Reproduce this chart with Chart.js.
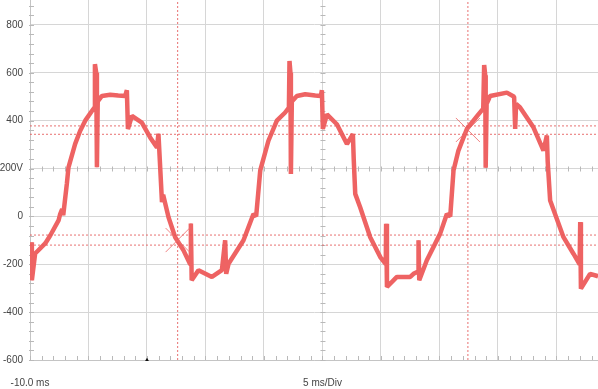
<!DOCTYPE html>
<html>
<head>
<meta charset="utf-8">
<script src="https://cdn.jsdelivr.net/npm/chart.js@4/dist/chart.umd.min.js"></script>
<style>
  body { margin: 0; background: #fff; }
  #wrap { width: 598px; height: 389px; }
</style>
</head>
<body>
<div id="wrap"><canvas id="scope" width="598" height="389"></canvas></div>
<script>
// waveform (ms, volts)
const timeMs = [-9.90, -9.84, -9.56, -8.70, -8.27, -7.56, -7.42, -7.25, -7.16, -6.85, -6.71, -6.14, -5.71, -5.28, -4.71,
  -4.49, -4.45, -4.34, -4.28, -4.21, -3.85, -3.15, -2.46, -1.86, -1.72, -1.63, -1.29, -0.44, 0.27, 0.85, 0.98, 1.09,
  1.28, 1.38, 1.84, 2.41, 3.12, 3.69, 3.75, 3.82, 4.40, 5.55, 6.40, 6.68, 6.77, 6.97, 8.25, 9.10, 9.33, 9.68, 10.38,
  11.10, 11.81, 12.13, 12.18, 12.26, 12.30, 12.38, 12.81, 13.52, 14.38, 14.86, 14.95, 15.03, 15.38, 16.23, 17.09, 17.60,
  17.67, 17.80, 18.22, 19.08, 19.94, 20.41, 20.44, 20.51, 21.36, 22.50, 22.78, 23.18, 23.21, 23.27, 23.92, 25.06, 25.63,
  25.92, 26.20, 26.62, 27.34, 28.33, 28.74, 28.82, 28.91, 28.95, 29.03, 29.33, 30.76, 31.38, 31.47, 31.55, 31.89, 33.03,
  33.89, 34.18, 34.25, 34.46, 35.60, 36.45, 36.98, 37.03, 37.09, 37.87, 38.55];
const volts = [-108, -267, -155, -113, -80, -17, 10, 30, 5, 136, 205, 303, 358, 400, 440,
  455, 636, 600, 205, 480, 503, 508, 505, 503, 527, 365, 420, 392, 330, 288, 345, 240,
  60, 90, -4, -87, -142, -200, -30, -267, -225, -253, -225, -100, -240, -198, -100, 10, 0, 192, 316,
  400, 434, 455, 649, 600, 177, 480, 503, 510, 505, 503, 527, 365, 426, 385, 302, 344,
  240, 94, 38, -87, -170, -200, -31, -295, -253, -253, -240, -230, -100, -267, -183, -72, 10,
  0, 192, 275, 365, 426, 450, 632, 590, 203, 470, 503, 517, 500, 365, 470, 455, 372,
  275, 338, 230, 66, -87, -156, -200, -24, -302, -240, -250];

const yTicks = [-600, -400, -200, 0, 200, 400, 600, 800];
const xTicks = [-10, -5, 0, 5, 10, 15, 20, 25, 30, 35];
const cursorVolts = [378, 343, -78, -120];
const cursorTimes = [2.62, 27.43];
const markerTimes = [2.62, 27.43];
const markerVolts = [-99, 361];
const triggerTime = 0;

const X_MIN = -10, X_MAX = 38.55, Y_MIN = -600, Y_MAX = 904;
const MINOR = 5;
const labelFont = { family: "'Liberation Sans Narrow', 'Arial Narrow', 'Liberation Sans', sans-serif", size: 10 };

const trace = timeMs.map((t, i) => ({ x: t, y: volts[i] }));
const cursorStyle = {
  borderColor: 'rgba(228, 88, 88, 0.85)', borderWidth: 1, borderDash: [2, 2],
  pointRadius: 0, fill: false, tension: 0
};

const datasets = [];
cursorVolts.forEach(v => datasets.push(Object.assign({
  data: [{ x: X_MIN, y: v }, { x: X_MAX, y: v }]
}, cursorStyle)));
cursorTimes.forEach(t => datasets.push(Object.assign({
  data: [{ x: t, y: Y_MIN }, { x: t, y: Y_MAX }]
}, cursorStyle)));
datasets.push({
  data: markerTimes.map((t, i) => ({ x: t, y: markerVolts[i] })),
  showLine: false, pointStyle: 'crossRot', pointRadius: 17, pointBorderWidth: 1,
  pointBorderColor: 'rgba(238, 110, 110, 0.85)', pointBackgroundColor: 'transparent'
});
// thick peak-detect band: darker edge then lighter core
datasets.push({
  data: trace, borderColor: '#ee6363', borderWidth: 4.5, pointRadius: 0,
  tension: 0, borderJoinStyle: 'bevel', borderCapStyle: 'butt'
});
datasets.push({
  data: trace, borderColor: '#f78a8a', borderWidth: 2, pointRadius: 0,
  tension: 0, borderJoinStyle: 'bevel', borderCapStyle: 'butt'
});
datasets.push({
  data: [{ x: triggerTime, y: Y_MIN }], showLine: false, clip: false,
  pointStyle: 'triangle', pointRadius: 2.2, pointBackgroundColor: '#111', pointBorderColor: '#111',
  pointBorderWidth: 0, pointRotation: 0
});

// small division marks on the axes and centre lines
const minorTicks = {
  id: 'minorTicks',
  beforeDatasetsDraw(chart) {
    const { ctx, chartArea: a, scales: { x, y } } = chart;
    const xStep = (xTicks[1] - xTicks[0]) / MINOR;
    const yStep = (yTicks[1] - yTicks[0]) / MINOR;
    const cx = x.getPixelForValue(15);
    const cy = y.getPixelForValue(200);
    ctx.save();
    ctx.strokeStyle = '#b9b9b9';
    ctx.lineWidth = 1;
    ctx.beginPath();
    for (let v = Y_MIN; v <= Y_MAX; v += yStep) {
      const py = Math.round(y.getPixelForValue(v)) + 0.5;
      ctx.moveTo(a.left - 1, py); ctx.lineTo(a.left + 4, py);
      ctx.moveTo(cx - 2, py); ctx.lineTo(cx + 3, py);
    }
    for (let t = X_MIN; t <= X_MAX; t += xStep) {
      const px = Math.round(x.getPixelForValue(t)) + 0.5;
      ctx.moveTo(px, a.bottom); ctx.lineTo(px, a.bottom - 4);
      ctx.moveTo(px, cy - 2); ctx.lineTo(px, cy + 3);
    }
    ctx.stroke();
    ctx.restore();
  }
};

new Chart(document.getElementById('scope'), {
  type: 'line',
  data: { datasets },
  options: {
    responsive: false,
    animation: false,
    layout: { padding: 0, autoPadding: false },
    plugins: { legend: { display: false }, tooltip: { enabled: false } },
    scales: {
      x: {
        type: 'linear', min: X_MIN, max: X_MAX,
        afterBuildTicks: s => { s.ticks = xTicks.map(v => ({ value: v })); },
        afterFit: s => { s.height = 29; s.paddingLeft = 0; s.paddingRight = 0; },
        grid: { color: '#d6d6d6', drawTicks: false },
        border: { color: '#c4c4c4' },
        ticks: {
          autoSkip: false, maxRotation: 0, padding: 17, color: '#444', font: labelFont,
          callback: v => v === -10 ? '-10.0 ms' : (v === 15 ? '5 ms/Div' : '')
        }
      },
      y: {
        min: Y_MIN, max: Y_MAX,
        afterBuildTicks: s => { s.ticks = yTicks.map(v => ({ value: v })); },
        afterFit: s => { s.width = 30; s.paddingTop = 0; s.paddingBottom = 0; },
        grid: { color: '#d6d6d6', drawTicks: false },
        border: { color: '#c4c4c4' },
        ticks: {
          padding: 7, color: '#444', font: labelFont,
          callback: v => v === 200 ? '200V' : String(v)
        }
      }
    }
  },
  plugins: [minorTicks]
});
</script>
</body>
</html>
